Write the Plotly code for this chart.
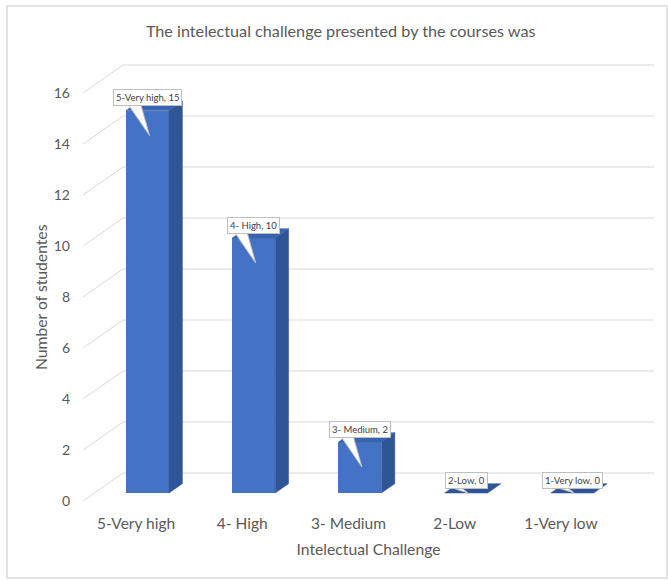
import plotly.graph_objects as go

# ---- data -------------------------------------------------------------
categories = ["5-Very high", "4- High", "3- Medium", "2-Low", "1-Very low"]
students = [15, 10, 2, 0, 0]
y_ticks = [0, 2, 4, 6, 8, 10, 12, 14, 16]

# ---- layout geometry ---------------------------------------------------
W, H = 668, 581
ML, MR, MT, MB = 83, 14, 60, 76
PX_CAT = 106.2          # pixels per category on the front plane
PX_UNIT = 25.5          # pixels per student
plot_w = W - ML - MR
plot_h = H - MT - MB
x0 = -0.5
x1 = x0 + plot_w / PX_CAT
y0 = -4 / PX_UNIT
y1 = y0 + plot_h / PX_UNIT

# depth of the 3-D box (front plane -> back wall), in data units
wall_dx = 40 / PX_CAT
wall_dy = 28 / PX_UNIT
f_front, f_back = 0.285, 0.62      # bars sit inside this slice of the depth
bar_w = 43 / PX_CAT
ddx = (f_back - f_front) * wall_dx
ddy = (f_back - f_front) * wall_dy

FRONT = "#4472C4"
SIDE = "#2F5597"
TOP = "#3A63AE"
GRID = "#D9D9D9"
TEXT = "#595959"
FONT = "Lato, 'Open Sans', sans-serif"

fig = go.Figure()

# gridlines: diagonal on the side wall, horizontal on the back wall
shapes = []
for t in y_ticks:
    path = (f"M {x0},{t} L {x0 + wall_dx},{t + wall_dy} "
            f"L {x1},{t + wall_dy}")
    shapes.append(dict(type="path", xref="x", yref="y", path=path,
                       line=dict(color=GRID, width=1), layer="below"))


def px_to_paper_x(px):
    return (px - ML) / plot_w


def px_to_paper_y(py):
    return (H - MB - py) / plot_h


# chart-area border
shapes.append(dict(type="rect", xref="paper", yref="paper",
                   x0=px_to_paper_x(7), x1=px_to_paper_x(667),
                   y0=px_to_paper_y(578), y1=px_to_paper_y(6),
                   line=dict(color="#D9D9D9", width=1.5), layer="below"))

# front faces of the columns
base = f_front * wall_dy
front_x = [i + f_front * wall_dx for i in range(len(categories))]
fig.add_trace(go.Bar(
    x=front_x, y=students, base=[base] * len(students), width=bar_w,
    marker=dict(color=FRONT, line=dict(width=0)), hoverinfo="skip",
    showlegend=False))

# side and top faces
for cx, v in zip(front_x, students):
    xl, xr = cx - bar_w / 2, cx + bar_w / 2
    top = base + v
    if v > 0:
        fig.add_trace(go.Scatter(
            x=[xr, xr, xr + ddx, xr + ddx, xr],
            y=[base, top, top + ddy, base + ddy, base],
            fill="toself", fillcolor=SIDE, mode="lines",
            line=dict(color=SIDE, width=0.5), hoverinfo="skip",
            showlegend=False))
    fig.add_trace(go.Scatter(
        x=[xl, xr, xr + ddx, xl + ddx, xl],
        y=[top, top, top + ddy, top + ddy, top],
        fill="toself", fillcolor=TOP if v > 0 else SIDE, mode="lines",
        line=dict(color=TOP if v > 0 else SIDE, width=0.5),
        hoverinfo="skip", showlegend=False))

# data-label callouts: a tail pointing into the column plus a text box
annotations = []
for cx, v, name in zip(front_x, students, categories):
    top = base + v
    box_bottom = top + 5 / PX_UNIT
    tip_y = top - min(v, 1.0) * 25 / PX_UNIT
    tail_x = [cx - 20 / PX_CAT, cx + 2 / PX_CAT, cx - 7 / PX_CAT]
    tail_y = [box_bottom + 2 / PX_UNIT, tip_y, box_bottom + 2 / PX_UNIT]
    fig.add_trace(go.Scatter(
        x=tail_x + [tail_x[0]], y=tail_y + [tail_y[0]],
        fill="toself", fillcolor="white", mode="lines",
        line=dict(color="#BFBFBF", width=1), hoverinfo="skip",
        showlegend=False))
    annotations.append(dict(
        x=cx, y=top, xref="x", yref="y", yshift=13,
        text=f"{name}, {v}", showarrow=False,
        font=dict(family=FONT, size=9.5, color="#404040"),
        bgcolor="white", bordercolor="#BFBFBF", borderwidth=1, borderpad=2,
        xanchor="center", yanchor="middle"))

# value-axis title
annotations.append(dict(
    x=px_to_paper_x(41), y=px_to_paper_y(297), xref="paper", yref="paper",
    text="Number of studentes", textangle=-90, showarrow=False,
    xanchor="center", yanchor="middle",
    font=dict(family=FONT, size=15.7, color=TEXT)))

fig.update_layout(
    width=W, height=H,
    margin=dict(l=ML, r=MR, t=MT, b=MB, autoexpand=False),
    paper_bgcolor="white", plot_bgcolor="white",
    font=dict(family=FONT, color=TEXT),
    title=dict(text="The intelectual challenge presented by the courses was",
               x=0.51, xanchor="center", y=1 - 31 / H, yanchor="middle",
               font=dict(size=16.2, color=TEXT)),
    xaxis=dict(range=[x0, x1], tickmode="array",
               tickvals=list(range(len(categories))), ticktext=categories,
               showgrid=False, zeroline=False, showline=False, ticks="",
               ticklabelstandoff=7, tickfont=dict(size=15.5, color=TEXT),
               title=dict(text="Intelectual Challenge", standoff=13,
                          font=dict(size=15.7, color=TEXT))),
    yaxis=dict(range=[y0, y1], tickmode="array", tickvals=y_ticks,
               showgrid=False, zeroline=False, showline=False, ticks="",
               ticklabelstandoff=12, tickfont=dict(size=14, color=TEXT)),
    shapes=shapes,
    annotations=annotations,
    bargap=0,
)

fig.write_html("out.html")
